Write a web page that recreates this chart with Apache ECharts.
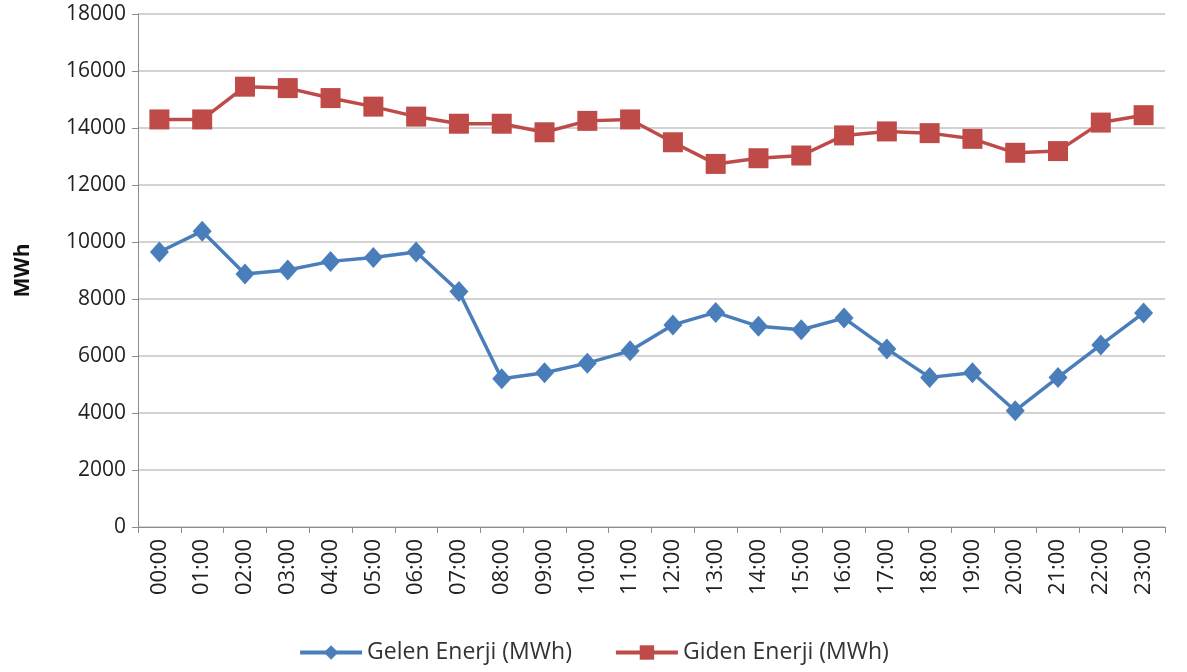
<!DOCTYPE html>
<html>
<head>
    <meta charset="utf-8">
    <title>Enerji</title>
    <script src="https://cdn.jsdelivr.net/npm/echarts@6/dist/echarts.min.js"></script>
    <style>
        html, body { margin: 0; padding: 0; background: #fff; }
    </style>
</head>
<body>
    <div id="main" style="width: 1187px;height:672px;"></div>

    <script type="text/javascript">
        var hours = ['00:00', '01:00', '02:00', '03:00', '04:00', '05:00', '06:00', '07:00',
            '08:00', '09:00', '10:00', '11:00', '12:00', '13:00', '14:00', '15:00',
            '16:00', '17:00', '18:00', '19:00', '20:00', '21:00', '22:00', '23:00'];

        var gelen = [9650, 10380, 8880, 9020, 9320, 9460, 9650, 8260,
            5200, 5410, 5750, 6180, 7090, 7530, 7040, 6920,
            7330, 6250, 5250, 5410, 4080, 5250, 6390, 7510];

        var giden = [14300, 14300, 15450, 15400, 15050, 14750, 14400, 14150,
            14150, 13850, 14250, 14300, 13500, 12740, 12940, 13035,
            13740, 13880, 13820, 13620, 13130, 13190, 14190, 14450];

        var seriesNames = ['Gelen Enerji (MWh)', 'Giden Enerji (MWh)'];

        var myChart = echarts.init(document.getElementById('main'));
        var fontFam = '"Open Sans", "Liberation Sans", sans-serif';

        var option = {
            animation: false,
            textStyle: { fontFamily: fontFam },
            grid: {
                left: 138,
                right: 22,
                top: 14,
                bottom: 145
            },
            legend: {
                top: 636,
                left: 'center',
                itemWidth: 62,
                itemHeight: 18,
                itemGap: 42,
                lineStyle: { width: 4 },
                textStyle: { fontSize: 23, color: '#333', fontFamily: fontFam },
                data: seriesNames
            },
            xAxis: {
                type: 'category',
                data: hours,
                boundaryGap: true,
                axisLine: { lineStyle: { color: '#8c8c8c', width: 1 } },
                axisTick: { show: true, alignWithLabel: false, length: 6, lineStyle: { color: '#8c8c8c' } },
                axisLabel: { rotate: 90, fontSize: 22, color: '#222', margin: 12, fontFamily: fontFam }
            },
            yAxis: {
                type: 'value',
                min: 0,
                max: 18000,
                interval: 2000,
                name: 'MWh',
                nameLocation: 'middle',
                nameGap: 104,
                nameTextStyle: { fontSize: 21, fontWeight: 'bold', color: '#111', fontFamily: fontFam },
                axisLine: { show: true, lineStyle: { color: '#8c8c8c' } },
                axisTick: { show: true, length: 6, lineStyle: { color: '#8c8c8c' } },
                axisLabel: {
                    fontSize: 21, color: '#222', margin: 12, fontFamily: fontFam,
                    formatter: function (v) { return String(v); }
                },
                splitLine: { lineStyle: { color: '#c4c4c4', width: 1.5 } }
            },
            series: [{
                name: seriesNames[0],
                type: 'line',
                data: gelen,
                symbol: 'diamond',
                symbolSize: [19, 21],
                color: '#4a7ebb',
                lineStyle: { width: 3.5, color: '#4a7ebb' },
                itemStyle: { color: '#4a7ebb' }
            }, {
                name: seriesNames[1],
                type: 'line',
                data: giden,
                symbol: 'rect',
                symbolSize: 20,
                color: '#be4b48',
                lineStyle: { width: 3.5, color: '#be4b48' },
                itemStyle: { color: '#be4b48' }
            }]
        };

        myChart.setOption(option);
    </script>
</body>
</html>
